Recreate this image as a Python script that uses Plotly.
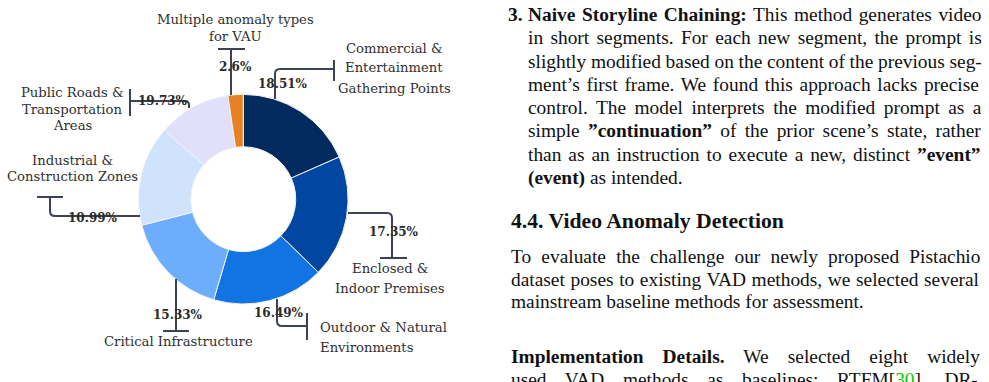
import os
import struct
import plotly.graph_objects as go

W, H = 989, 382

# ---------------- chart data ----------------
categories = [
    "Commercial &\nEntertainment\nGathering Points",
    "Enclosed &\nIndoor Premises",
    "Outdoor & Natural\nEnvironments",
    "Critical Infrastructure",
    "Industrial &\nConstruction Zones",
    "Public Roads &\nTransportation\nAreas",
    "Multiple anomaly types\nfor VAU",
]
# slice sizes as drawn in the picture (share of the ring, %)
slice_values = [18.4, 18.9, 17.25, 16.45, 15.4, 11.25, 2.35]
# percentage labels as printed next to each slice
pct_labels = ["18.51%", "17.35%", "16.49%", "15.33%", "10.99%", "19.73%", "2.6%"]
colors = ["#012b5f", "#0147a1", "#1273e3", "#6caefc", "#cfe3fc", "#e0e0fa", "#e68223"]

# ---------------- layout helpers (pixel positions) ----------------
CX, CY, R = 243.3, 199.2, 104.8

name_pos = [  # (x, [y per line], anchor)
    (394, [48, 68, 88], "center"),
    (390, [268, 288], "center"),
    (319, [327, 347], "left"),
    (178, [341], "center"),
    (72, [160, 176], "center"),
    (72, [92, 109, 125], "center"),
    (235, [20, 37], "center"),
]
pct_pos = [(283, 84), (394, 232), (279, 313), (178, 315), (93, 218), (163, 101), (235, 67)]
leaders = [
    [("M", 275, 99), ("L", 275, 74), ("Q", 275, 69, 280, 69), ("L", 334, 69), ("M", 334, 60), ("L", 334, 81)],
    [("M", 348, 213), ("L", 387, 213), ("Q", 392, 213, 392, 218), ("L", 392, 258), ("M", 380, 258), ("L", 407, 258)],
    [("M", 277, 299), ("L", 277, 321), ("Q", 277, 326, 282, 326), ("L", 307, 326), ("M", 307, 313), ("L", 307, 340)],
    [("M", 176, 279), ("L", 176, 331), ("M", 163, 331), ("L", 189, 331)],
    [("M", 140, 216), ("L", 55, 216), ("Q", 50, 216, 50, 211), ("L", 50, 197), ("M", 37, 197), ("L", 63, 197)],
    [("M", 189, 108), ("L", 189, 105), ("Q", 189, 101, 185, 101), ("L", 130, 101), ("M", 130, 89), ("L", 130, 116)],
    [("M", 231, 95), ("L", 231, 49), ("M", 218, 49), ("L", 245, 49)],
]


def P(x, y):
    return x / W, 1 - y / H


def path_from(cmds):
    parts = []
    for c in cmds:
        s = c[0]
        pts = c[1:]
        for i in range(0, len(pts), 2):
            a, b = P(pts[i], pts[i + 1])
            s += f" {a:.5f},{b:.5f}"
        parts.append(s)
    return " ".join(parts)


# ---------------- font metrics for justified text ----------------
def find_font(name):
    for root in ["/usr/share/fonts", "/usr/local/share/fonts", os.path.expanduser("~/.fonts")]:
        if not os.path.isdir(root):
            continue
        for dp, dn, fn in os.walk(root):
            if name in fn:
                return os.path.join(dp, name)
    return None


def load_width_fn(path):
    d = open(path, "rb").read()
    num = struct.unpack(">H", d[4:6])[0]
    tb = {}
    for i in range(num):
        tag, _, off, ln = struct.unpack(">4sIII", d[12 + 16 * i: 28 + 16 * i])
        tb[tag] = off
    upem = struct.unpack(">H", d[tb[b"head"] + 18: tb[b"head"] + 20])[0]
    nhm = struct.unpack(">H", d[tb[b"hhea"] + 34: tb[b"hhea"] + 36])[0]
    hm = tb[b"hmtx"]
    adv = [struct.unpack(">H", d[hm + 4 * i: hm + 4 * i + 2])[0] for i in range(nhm)]
    c = tb[b"cmap"]
    n = struct.unpack(">H", d[c + 2: c + 4])[0]
    sub = None
    for i in range(n):
        pid, eid, off = struct.unpack(">HHI", d[c + 4 + 8 * i: c + 12 + 8 * i])
        fmt = struct.unpack(">H", d[c + off: c + off + 2])[0]
        if fmt == 4 and pid in (0, 3):
            sub = c + off
            break
    segx2 = struct.unpack(">H", d[sub + 6: sub + 8])[0]
    seg = segx2 // 2
    ends = struct.unpack(">%dH" % seg, d[sub + 14: sub + 14 + segx2])
    starts = struct.unpack(">%dH" % seg, d[sub + 16 + segx2: sub + 16 + 2 * segx2])
    deltas = struct.unpack(">%dh" % seg, d[sub + 16 + 2 * segx2: sub + 16 + 3 * segx2])
    ro_off = sub + 16 + 3 * segx2
    ros = struct.unpack(">%dH" % seg, d[ro_off: ro_off + segx2])

    def gid(ch):
        cp = ord(ch)
        for k in range(seg):
            if starts[k] <= cp <= ends[k]:
                if ros[k] == 0:
                    return (cp + deltas[k]) & 0xFFFF
                addr = ro_off + 2 * k + ros[k] + 2 * (cp - starts[k])
                g = struct.unpack(">H", d[addr: addr + 2])[0]
                return (g + deltas[k]) & 0xFFFF if g else 0
        return 0

    def width(s, size):
        return sum(adv[min(gid(ch), nhm - 1)] for ch in s) / upem * size

    return width


try:
    w_reg = load_width_fn(find_font("LiberationSerif-Regular.ttf"))
    w_bold = load_width_fn(find_font("LiberationSerif-Bold.ttf"))
except Exception:
    w_reg = w_bold = None

FS_BODY, FS_HEAD = 19.4, 21.7
RIGHT_EDGE = 981

body_lines = [  # (x, y, segments, justify)
    (527, 14.5, [("Naive Storyline Chaining:", "b"), (" This method generates video", "r")], True),
    (527, 37.8, [("in short segments. For each new segment, the prompt is", "r")], True),
    (527, 61.1, [("slightly modified based on the content of the previous seg-", "r")], True),
    (527, 84.4, [("ment\u2019s first frame. We found this approach lacks precise", "r")], True),
    (527, 107.7, [("control. The model interprets the modified prompt as a", "r")], True),
    (527, 131.0, [("simple ", "r"), ("\u201dcontinuation\u201d", "b"), (" of the prior scene\u2019s state, rather", "r")], True),
    (527, 154.3, [("than as an instruction to execute a new, distinct ", "r"), ("\u201devent\u201d", "b")], True),
    (527, 177.6, [("(event)", "b"), (" as intended.", "r")], False),
    (510, 256.7, [("To evaluate the challenge our newly proposed Pistachio", "r")], True),
    (510, 279.2, [("dataset poses to existing VAD methods, we selected several", "r")], True),
    (510, 301.7, [("mainstream baseline methods for assessment.", "r")], False),
    (510, 356.7, [("Implementation Details.", "b"), (" We selected eight widely", "r")], True),
    (510, 379.2, [("used VAD methods as baselines: RTFM[", "r"), ("30", "g"), ("], DR-", "r")], True),
]


def build_line(x, segs, justify, size):
    inner = ""
    natural = 0.0
    spaces = 0
    for txt, st in segs:
        spaces += txt.count(" ")
        if st == "b":
            inner += f"<b>{txt}</b>"
            if w_bold:
                natural += w_bold(txt, size)
        elif st == "g":
            inner += f"<span style='color:#00cc00'>{txt}</span>"
            if w_reg:
                natural += w_reg(txt, size)
        else:
            inner += txt
            if w_reg:
                natural += w_reg(txt, size)
    if justify and w_reg and spaces:
        ws = (RIGHT_EDGE - x - natural) / spaces
        return f"<span style='word-spacing:{ws:.2f}px'>{inner}</span>"
    return inner


# ---------------- figure ----------------
x0, x1 = (CX - R) / W, (CX + R) / W
y0, y1 = (H - CY - R) / H, (H - CY + R) / H

fig = go.Figure(
    go.Pie(
        labels=[c.replace("\n", " ") for c in categories],
        values=slice_values,
        hole=0.5,
        sort=False,
        direction="clockwise",
        rotation=0,
        marker=dict(colors=colors, line=dict(color="#f2f2f2", width=1)),
        textinfo="none",
        hoverinfo="label+percent",
        domain=dict(x=[x0, x1], y=[y0, y1]),
        showlegend=False,
    )
)

annotations = []
shapes = []
TXT = "#303030"
for name, (nx, nys, anc), (lx, ly), pct, ld in zip(categories, name_pos, pct_pos, pct_labels, leaders):
    for line, yy in zip(name.split("\n"), nys):
        ax, ay = P(nx, yy)
        annotations.append(dict(x=ax, y=ay, xref="paper", yref="paper", text=line, showarrow=False,
                                xanchor=anc, yanchor="middle", borderpad=0,
                                font=dict(family="DejaVu Serif", size=13.2, color=TXT)))
    ax, ay = P(lx, ly)
    annotations.append(dict(x=ax, y=ay, xref="paper", yref="paper", text=f"<b>{pct}</b>", showarrow=False,
                            xanchor="center", yanchor="middle", borderpad=0,
                            font=dict(family="DejaVu Serif", size=12, color="#2a2a2a")))
    shapes.append(dict(type="path", xref="paper", yref="paper", path=path_from(ld),
                       line=dict(color="#3b4250", width=2)))

# paper text on the right
ax, ay = P(507, 14.5)
annotations.append(dict(x=ax, y=ay, xref="paper", yref="paper", text="<b>3.</b>", showarrow=False,
                        xanchor="left", yanchor="middle", borderpad=0,
                        font=dict(family="Liberation Serif", size=FS_BODY, color="#111111")))
ax, ay = P(510, 221.5)
annotations.append(dict(x=ax, y=ay, xref="paper", yref="paper", text="<b>4.4. Video Anomaly Detection</b>",
                        showarrow=False, xanchor="left", yanchor="middle", borderpad=0,
                        font=dict(family="Liberation Serif", size=FS_HEAD, color="#111111")))
for bx, by, segs, just in body_lines:
    ax, ay = P(bx, by)
    annotations.append(dict(x=ax, y=ay, xref="paper", yref="paper", text=build_line(bx, segs, just, FS_BODY),
                            showarrow=False, xanchor="left", yanchor="middle", borderpad=0,
                            font=dict(family="Liberation Serif", size=FS_BODY, color="#111111")))

fig.update_layout(
    width=W, height=H,
    margin=dict(l=0, r=0, t=0, b=0),
    paper_bgcolor="white", plot_bgcolor="white",
    annotations=annotations, shapes=shapes,
)

fig.write_html("out.html")
